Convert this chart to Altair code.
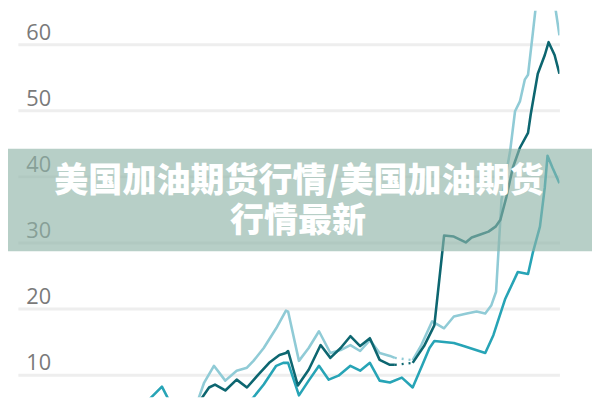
import altair as alt
import pandas as pd

# ---- data ----
y_ticks = [10, 20, 30, 40, 50, 60]

series_names = ["浅蓝", "青色", "深青"]
series_colors = ["#90cbd6", "#27a4b6", "#0d6670"]

# light blue series (two runs, separated by a gap)
light_t_a = [33.2, 34.4, 36.2, 38.3, 40.4, 42.3, 43.5, 45.4, 47.7, 49.5, 49.9, 51.9, 53.7, 55.6,
             57.7, 59.6, 61.4, 63.2, 65.0, 66.8, 68.7, 69.6]
light_v_a = [6.0, 8.81, 11.34, 9.10, 10.6, 11.05, 12.09, 14.03, 17.02, 19.70, 19.55, 12.09, 14.03, 16.57,
             13.28, 13.73, 14.48, 13.58, 15.23, 13.28, 12.84, 12.54]
light_t_b = [72.9, 74.5, 76.5, 78.7, 80.5, 82.9, 84.7, 86.3, 87.4, 88.3, 89.3, 90.9, 91.8, 92.7,
             93.6, 94.2, 95.1, 96.5, 97.8, 99.1, 100.0]
light_v_b = [12.2, 14.48, 18.06, 17.02, 18.81, 19.26, 19.55, 19.26, 20.45, 22.54, 36.42, 43.88, 49.85, 51.34,
             54.63, 55.37, 61.79, 72.0, 73.0, 66.27, 61.34]

# medium teal series
mid_t = [23.7, 26.6, 28.1, 35.0, 42.0, 43.5, 45.4, 47.7, 49.0, 49.9, 51.9, 53.7, 55.6, 57.4, 59.2,
         61.4, 63.2, 65.0, 66.8, 68.7, 70.9, 72.9, 74.7, 76.0, 76.9, 80.5, 82.3, 86.3, 87.8, 90.0,
         92.3, 94.2, 95.1, 96.4, 97.3, 97.8, 98.7, 100.0]
mid_v = [5.8, 8.2, 5.8, 5.0, 5.2, 6.57, 8.51, 11.34, 11.79, 11.79, 6.87, 9.10, 11.34, 9.25, 9.85,
         11.34, 10.6, 11.79, 9.10, 8.81, 9.55, 8.06, 11.49, 14.03, 15.08, 14.78, 14.33, 13.28, 15.97, 21.49,
         25.52, 25.23, 28.51, 32.39, 38.36, 43.13, 41.34, 38.96]

# dark teal series (two runs, separated by a gap)
dark_t_a = [32.8, 35.3, 36.4, 38.3, 40.4, 42.3, 44.4, 46.4, 48.3, 49.5, 49.9, 51.7, 53.7, 55.9,
            57.7, 59.6, 61.4, 63.2, 65.0, 66.8, 68.7, 69.6]
dark_v_a = [5.07, 8.06, 8.51, 7.61, 9.25, 8.06, 10.0, 11.79, 12.99, 13.28, 13.58, 8.36, 10.75, 14.48,
            12.54, 14.03, 15.82, 14.33, 15.52, 12.24, 11.49, 11.49]
dark_t_b = [72.9, 75.0, 76.9, 78.7, 80.5, 82.7, 83.8, 85.4, 86.9, 88.2, 89.1, 90.2, 91.4, 92.7,
            94.2, 94.7, 96.0, 97.3, 98.0, 99.1, 100.0]
dark_v_b = [11.79, 14.33, 17.46, 31.05, 30.90, 30.0, 30.75, 31.2, 31.64, 32.39, 33.43, 36.87, 41.34, 44.33,
            46.57, 49.40, 55.52, 58.36, 60.30, 58.36, 55.52]

title_lines = ["美国加油期货行情/美国加油期货", "行情最新"]

# ---- build tables ----
rows = []
def add(name, seg, ts, vs):
    for t, v in zip(ts, vs):
        rows.append({"t": t, "v": v, "series": name, "seg": seg})

add("浅蓝", "l1", light_t_a, light_v_a)
add("浅蓝", "l2", light_t_b, light_v_b)
add("青色", "m1", mid_t, mid_v)
add("深青", "d1", dark_t_a, dark_v_a)
add("深青", "d2", dark_t_b, dark_v_b)
df = pd.DataFrame(rows)

gap_rows = [
    {"t": light_t_a[-1], "v": light_v_a[-1], "series": "浅蓝", "seg": "lg"},
    {"t": light_t_b[0], "v": light_v_b[0], "series": "浅蓝", "seg": "lg"},
    {"t": dark_t_a[-1], "v": dark_v_a[-1], "series": "深青", "seg": "dg"},
    {"t": dark_t_b[0], "v": dark_v_b[0], "series": "深青", "seg": "dg"},
]
gap_df = pd.DataFrame(gap_rows)

x_scale = alt.Scale(domain=[0, 100], nice=False, zero=False)
y_scale = alt.Scale(domain=[6.57, 65.07], nice=False, zero=False)
color_scale = alt.Scale(domain=series_names, range=series_colors)

y_axis = alt.Axis(values=y_ticks, title=None, domain=False, ticks=False, tickSize=0,
                  labelPadding=-8, labelAlign="left", labelBaseline="alphabetic",
                  labelOffset=-5, labelFont="Open Sans", labelFontSize=22,
                  labelColor="#7a7a7a", gridColor="#eeeeee", gridWidth=3, zindex=0)

base = alt.Chart(df)

lines = base.mark_line(strokeWidth=2.6, clip=True, strokeJoin="round").encode(
    x=alt.X("t:Q", scale=x_scale, axis=None),
    y=alt.Y("v:Q", scale=y_scale, axis=y_axis),
    color=alt.Color("series:N", scale=color_scale, legend=None),
    detail="seg:N",
    order=alt.Order("t:Q"),
)

gaps = alt.Chart(gap_df).mark_line(strokeWidth=2.4, strokeDash=[2, 5], clip=True).encode(
    x=alt.X("t:Q", scale=x_scale),
    y=alt.Y("v:Q", scale=y_scale),
    color=alt.Color("series:N", scale=color_scale, legend=None),
    detail="seg:N",
)

banner = alt.Chart(pd.DataFrame({"a": [0]})).mark_rect(color="#8eb4a7", opacity=0.64).encode(
    x=alt.value(-10), x2=alt.value(582), y=alt.value(140), y2=alt.value(244)
)

text_style = dict(font="Noto Sans CJK SC", fontSize=34.5, fontWeight=900, color="white",
                  align="center", baseline="middle")

text1 = alt.Chart(pd.DataFrame({"a": [0]})).mark_text(**text_style).encode(
    x=alt.value(285), y=alt.value(174), text=alt.value(title_lines[0]))

text2 = alt.Chart(pd.DataFrame({"a": [0]})).mark_text(**text_style).encode(
    x=alt.value(284), y=alt.value(214), text=alt.value(title_lines[1]))

chart = alt.layer(lines, gaps, banner, text1, text2).properties(
    width=549, height=392, padding=0, background="white"
).configure_view(stroke=None)

chart.save("out.html", embed_options={"renderer": "svg", "actions": False})
